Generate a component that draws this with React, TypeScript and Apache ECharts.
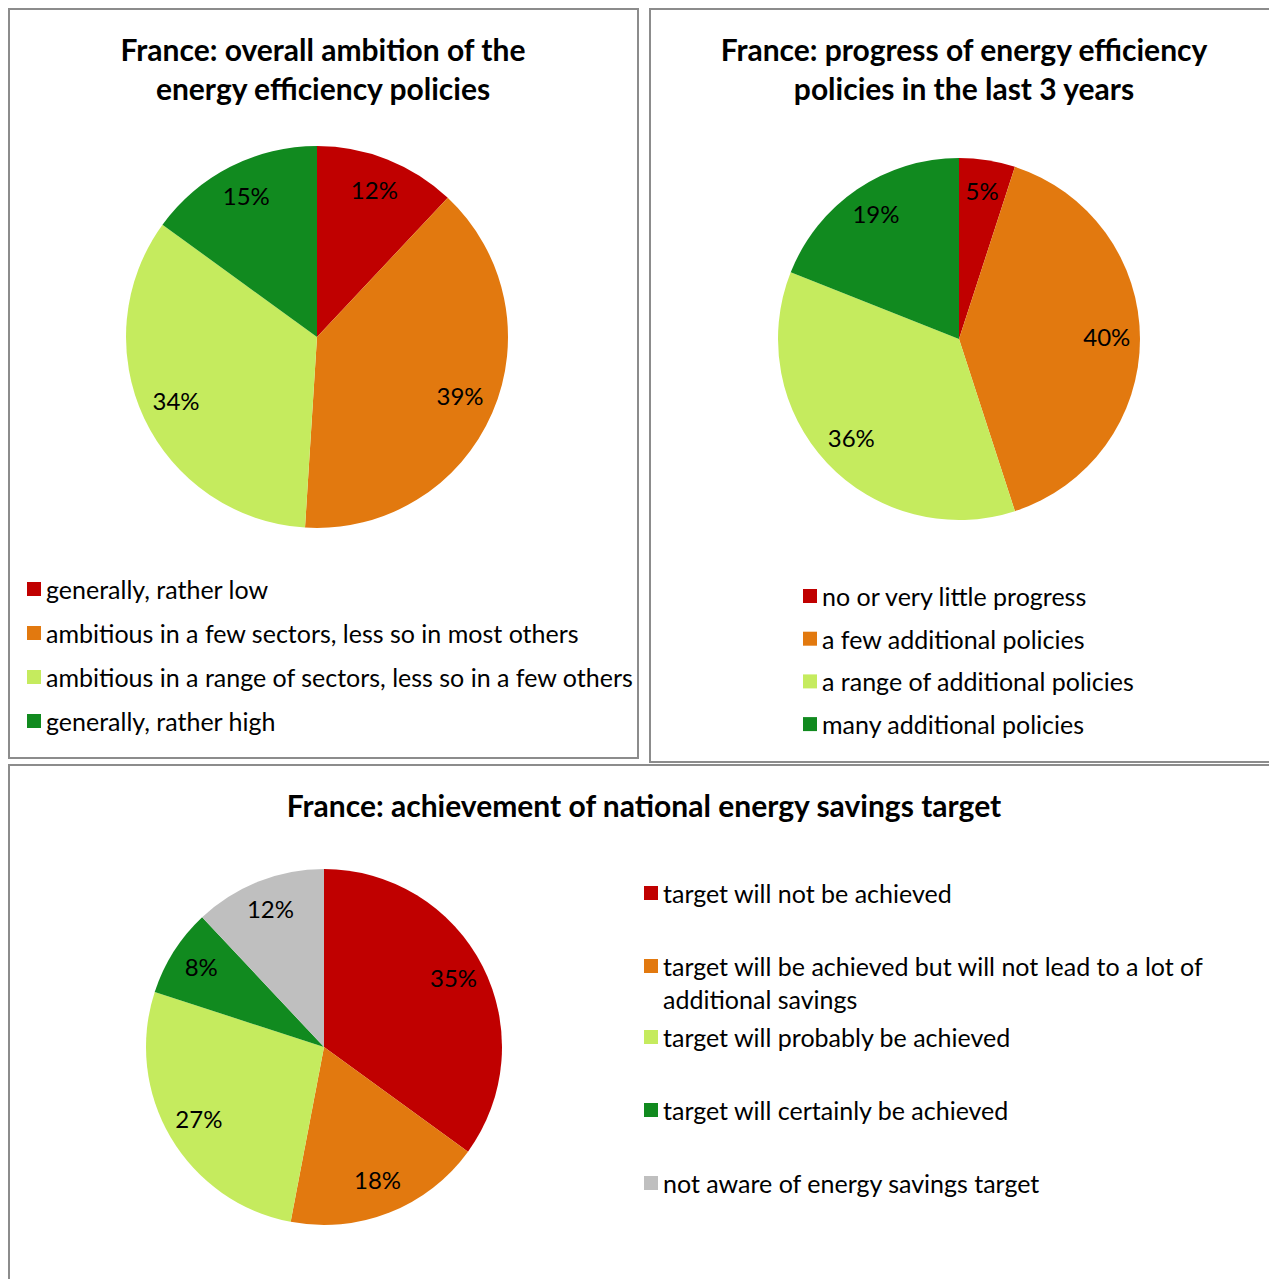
import React, { useEffect, useRef } from "react";
import * as echarts from "echarts";

const COLORS = ["#C00000", "#E2790F", "#C5EB5E", "#118A1F", "#BFBFBF"];

const title1 = "France: overall ambition of the\nenergy efficiency policies";
const names1 = [
  "generally, rather low",
  "ambitious in a few sectors, less so in most others",
  "ambitious in a range of sectors, less so in a few others",
  "generally, rather high",
];
const values1 = [12, 39, 34, 15];

const title2 = "France: progress of energy efficiency\npolicies in the last 3 years";
const names2 = [
  "no or very little progress",
  "a few additional policies",
  "a range of additional policies",
  "many additional policies",
];
const values2 = [5, 40, 36, 19];

const title3 = "France: achievement of national energy savings target";
const names3 = [
  "target will not be achieved",
  "target will be achieved but will not lead to a lot of additional savings",
  "target will probably be achieved",
  "target will certainly be achieved",
  "not aware of energy savings target",
];
const labels3 = [
  "target will not be achieved",
  "target will be achieved but will not lead to a lot of\nadditional savings",
  "target will probably be achieved",
  "target will certainly be achieved",
  "not aware of energy savings target",
];
const values3 = [35, 18, 27, 8, 12];

const FONT = "Lato, 'Noto Sans', sans-serif";

function pieSeries(names: string[], values: number[], center: number[], r: number) {
  const data = names.map((n, i) => ({ name: n, value: values[i], itemStyle: { color: COLORS[i] } }));
  return [
    {
      type: "pie",
      center,
      radius: [0, r],
      startAngle: 90,
      clockwise: true,
      data,
      label: { show: false },
      labelLine: { show: false },
      itemStyle: { borderWidth: 0 },
      emphasis: { disabled: true },
      silent: true,
    },
    {
      type: "pie",
      center,
      radius: [r * 0.6, r],
      startAngle: 90,
      clockwise: true,
      data: names.map((n, i) => ({ name: n, value: values[i] })),
      itemStyle: { color: "rgba(0,0,0,0)", borderWidth: 0 },
      label: {
        show: true,
        position: "inside",
        formatter: "{c}%",
        fontFamily: FONT,
        fontSize: 24,
        color: "#000",
        offset: [0, -3],
      },
      labelLine: { show: false },
      emphasis: { disabled: true },
      silent: true,
    },
  ];
}

const LH = 30;
const legendText = { fontFamily: FONT, fontSize: 25, color: "#000", lineHeight: LH };

export default function App() {
  const ref = useRef<HTMLDivElement>(null);
  useEffect(() => {
    if (!ref.current) return;
    const chart = echarts.init(ref.current, undefined, { renderer: "svg" });
    const rows3 = [893, 966, 1037, 1110, 1183];
    const legends3 = names3.map((n, i) => {
      const twoLine = labels3[i].includes("\n");
      return {
        orient: "vertical",
        left: 644,
        top: twoLine ? rows3[i] - 49.5 : rows3[i] - LH / 2,
        padding: 0,
        itemWidth: 14,
        itemHeight: 14,
        icon: "rect",
        data: [n],
        formatter: () => (twoLine ? "\n" + labels3[i] : labels3[i]),
        selectedMode: false,
        textStyle: twoLine ? { ...legendText, lineHeight: 33 } : legendText,
      };
    });
    const option: any = {
      animation: false,
      backgroundColor: "#fff",
      graphic: [
        { type: "rect", shape: { x: 9, y: 9, width: 629, height: 749 }, style: { fill: "none", stroke: "#8C8C8C", lineWidth: 2 } },
        { type: "rect", shape: { x: 650, y: 9, width: 640, height: 753 }, style: { fill: "none", stroke: "#8C8C8C", lineWidth: 2 } },
        { type: "rect", shape: { x: 9, y: 765, width: 1290, height: 540 }, style: { fill: "none", stroke: "#8C8C8C", lineWidth: 2 } },
        { type: "text", x: 323, y: 29, style: { text: title1, font: `bold 30px ${FONT}`, textAlign: "center", textVerticalAlign: "top", lineHeight: 39, fill: "#000" } },
        { type: "text", x: 964, y: 29, style: { text: title2, font: `bold 30px ${FONT}`, textAlign: "center", textVerticalAlign: "top", lineHeight: 39, fill: "#000" } },
        { type: "text", x: 644, y: 785, style: { text: title3, font: `bold 30px ${FONT}`, textAlign: "center", textVerticalAlign: "top", lineHeight: 39, fill: "#000" } },
      ],
      legend: [
        {
          orient: "vertical",
          left: 27,
          top: 589 - LH / 2,
          padding: 0,
          itemWidth: 14,
          itemHeight: 14,
          itemGap: 44 - LH,
          icon: "rect",
          data: names1,
          selectedMode: false,
          textStyle: legendText,
        },
        {
          orient: "vertical",
          left: 803,
          top: 596 - LH / 2,
          padding: 0,
          itemWidth: 14,
          itemHeight: 14,
          itemGap: 42.7 - LH,
          icon: "rect",
          data: names2,
          selectedMode: false,
          textStyle: legendText,
        },
        ...legends3,
      ],
      series: [
        ...pieSeries(names1, values1, [317, 337], 191),
        ...pieSeries(names2, values2, [959, 339], 181),
        ...pieSeries(names3, values3, [324, 1047], 178),
      ],
    };
    chart.setOption(option);
    return () => chart.dispose();
  }, []);
  return (
    <div
      ref={ref}
      style={{ position: "fixed", left: 0, top: 0, width: 1269, height: 1279 }}
    />
  );
}
